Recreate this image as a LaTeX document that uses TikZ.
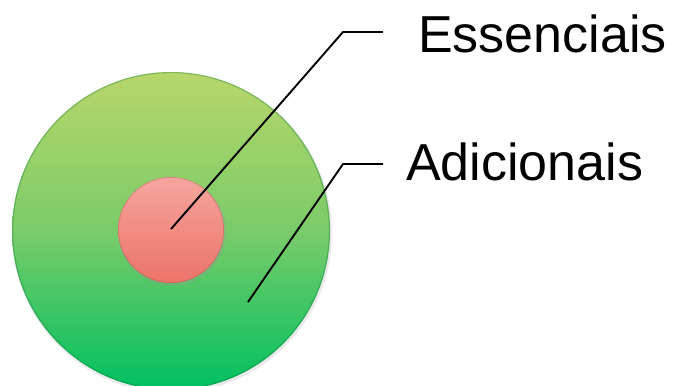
\documentclass[tikz,border=0pt]{standalone}
\usepackage{fontspec}
\setmainfont{Liberation Sans}
\definecolor{gtop}{HTML}{B8D66A}
\definecolor{gmid}{HTML}{7ACB69}
\definecolor{gbot}{HTML}{00C060}
\definecolor{rtop}{HTML}{F5A69F}
\definecolor{rmid}{HTML}{F08C83}
\definecolor{rbot}{HTML}{EC7468}
\tikzset{
  connector/.style={draw=black, line width=1.9pt, line join=miter},
  labeltext/.style={font=\fontsize{52}{56}\selectfont, anchor=base west, inner sep=0pt, text=black},
}
\begin{document}
\begin{tikzpicture}[x=1pt, y=-1pt]
\useasboundingbox (0,0) rectangle (676,385);
% outer green disc
\fill[black!25, opacity=0.35] (172,233) circle (160);
\shade[top color=gtop, bottom color=gbot, middle color=gmid] (171,231) circle (159);
\draw[gbot!60!black, opacity=0.3, line width=1.2pt] (171,231) circle (158.4);
\node[circle, minimum size=318pt, inner sep=0pt] (outer) at (171,231) {};
% inner red disc
\fill[black!40, opacity=0.3] (172,232) circle (54);
\shade[top color=rtop, bottom color=rbot, middle color=rmid] (171,230) circle (53);
\draw[rbot!70!black, opacity=0.35, line width=0.8pt] (171,230) circle (52.6);
\node[circle, minimum size=106pt, inner sep=0pt] (inner) at (171,230) {};
% labels
\node[labeltext] (ess) at (418,53) {Essenciais};
\node[labeltext] (adi) at (406,180) {Adicionais};
% connector points
\coordinate (p1) at (171,229);
\coordinate (e1) at (343,32);
\coordinate (t1) at (383,32);
\coordinate (p2) at (248,302);
\coordinate (e2) at (343,164);
\coordinate (t2) at (383,164);
\draw[connector] (p1) -- (e1) -- (t1);
\draw[connector] (p2) -- (e2) -- (t2);
\end{tikzpicture}
\end{document}
